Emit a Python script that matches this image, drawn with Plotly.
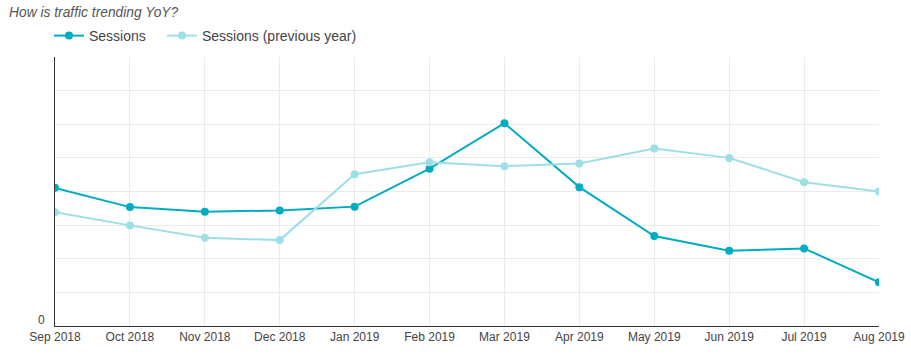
import plotly.graph_objects as go

months = ["Sep 2018", "Oct 2018", "Nov 2018", "Dec 2018", "Jan 2019", "Feb 2019",
          "Mar 2019", "Apr 2019", "May 2019", "Jun 2019", "Jul 2019", "Aug 2019"]
sessions = [2054, 1768, 1698, 1719, 1775, 2340, 3015, 2065, 1337, 1119, 1154, 649]
sessions_prev = [1693, 1496, 1312, 1277, 2258, 2436, 2377, 2417, 2640, 2500, 2139, 2001]
y_ticks = [0, 500, 1000, 1500, 2000, 2500, 3000, 3500, 4000]
y_ticktext = ["0", "", "", "", "", "", "", "", ""]

dark = "#00acc1"
light = "#9ddfe7"

fig = go.Figure()
fig.add_trace(go.Scatter(x=months, y=sessions, name="Sessions", mode="lines+markers",
                         line=dict(color=dark, width=2), marker=dict(color=dark, size=8),
                         legend="legend"))
fig.add_trace(go.Scatter(x=months, y=sessions_prev, name="Sessions (previous year)",
                         mode="lines+markers",
                         line=dict(color=light, width=2), marker=dict(color=light, size=8),
                         legend="legend2"))

leg_common = dict(orientation="h", xanchor="left", y=1 + 21/269, yanchor="middle",
                  font=dict(size=14, color="#444"), itemwidth=30, bgcolor="rgba(0,0,0,0)")

fig.update_layout(
    width=911, height=354,
    margin=dict(l=55, r=32, t=57, b=28),
    paper_bgcolor="white", plot_bgcolor="white",
    font=dict(family="Liberation Sans, Arial, sans-serif", size=12, color="#444"),
    title=dict(text="<i>How is traffic trending YoY?</i>", x=9/911, xanchor="left",
               xref="container", y=1 - 12/354, yanchor="middle", yref="container",
               font=dict(size=13.8, color="#555")),
    showlegend=True,
    legend=dict(x=-6/824, **leg_common),
    legend2=dict(x=107/824, **leg_common),
    hovermode=False,
)
fig.update_xaxes(type="category", range=[0, len(months) - 1], showgrid=True,
                 gridcolor="#ebebeb", gridwidth=1, showline=True, linecolor="#333",
                 linewidth=1, ticks="", tickfont=dict(size=12, color="#444"), zeroline=False,
                 automargin=False)
fig.update_yaxes(range=[0, 4000], tickvals=y_ticks, ticktext=y_ticktext, showgrid=True,
                 gridcolor="#ebebeb", gridwidth=1, showline=True, linecolor="#333",
                 linewidth=1, ticks="", tickfont=dict(size=12, color="#444"), zeroline=False,
                 automargin=False, ticklabelshift=-6, ticklabelstandoff=7)

fig.write_html("out.html")
